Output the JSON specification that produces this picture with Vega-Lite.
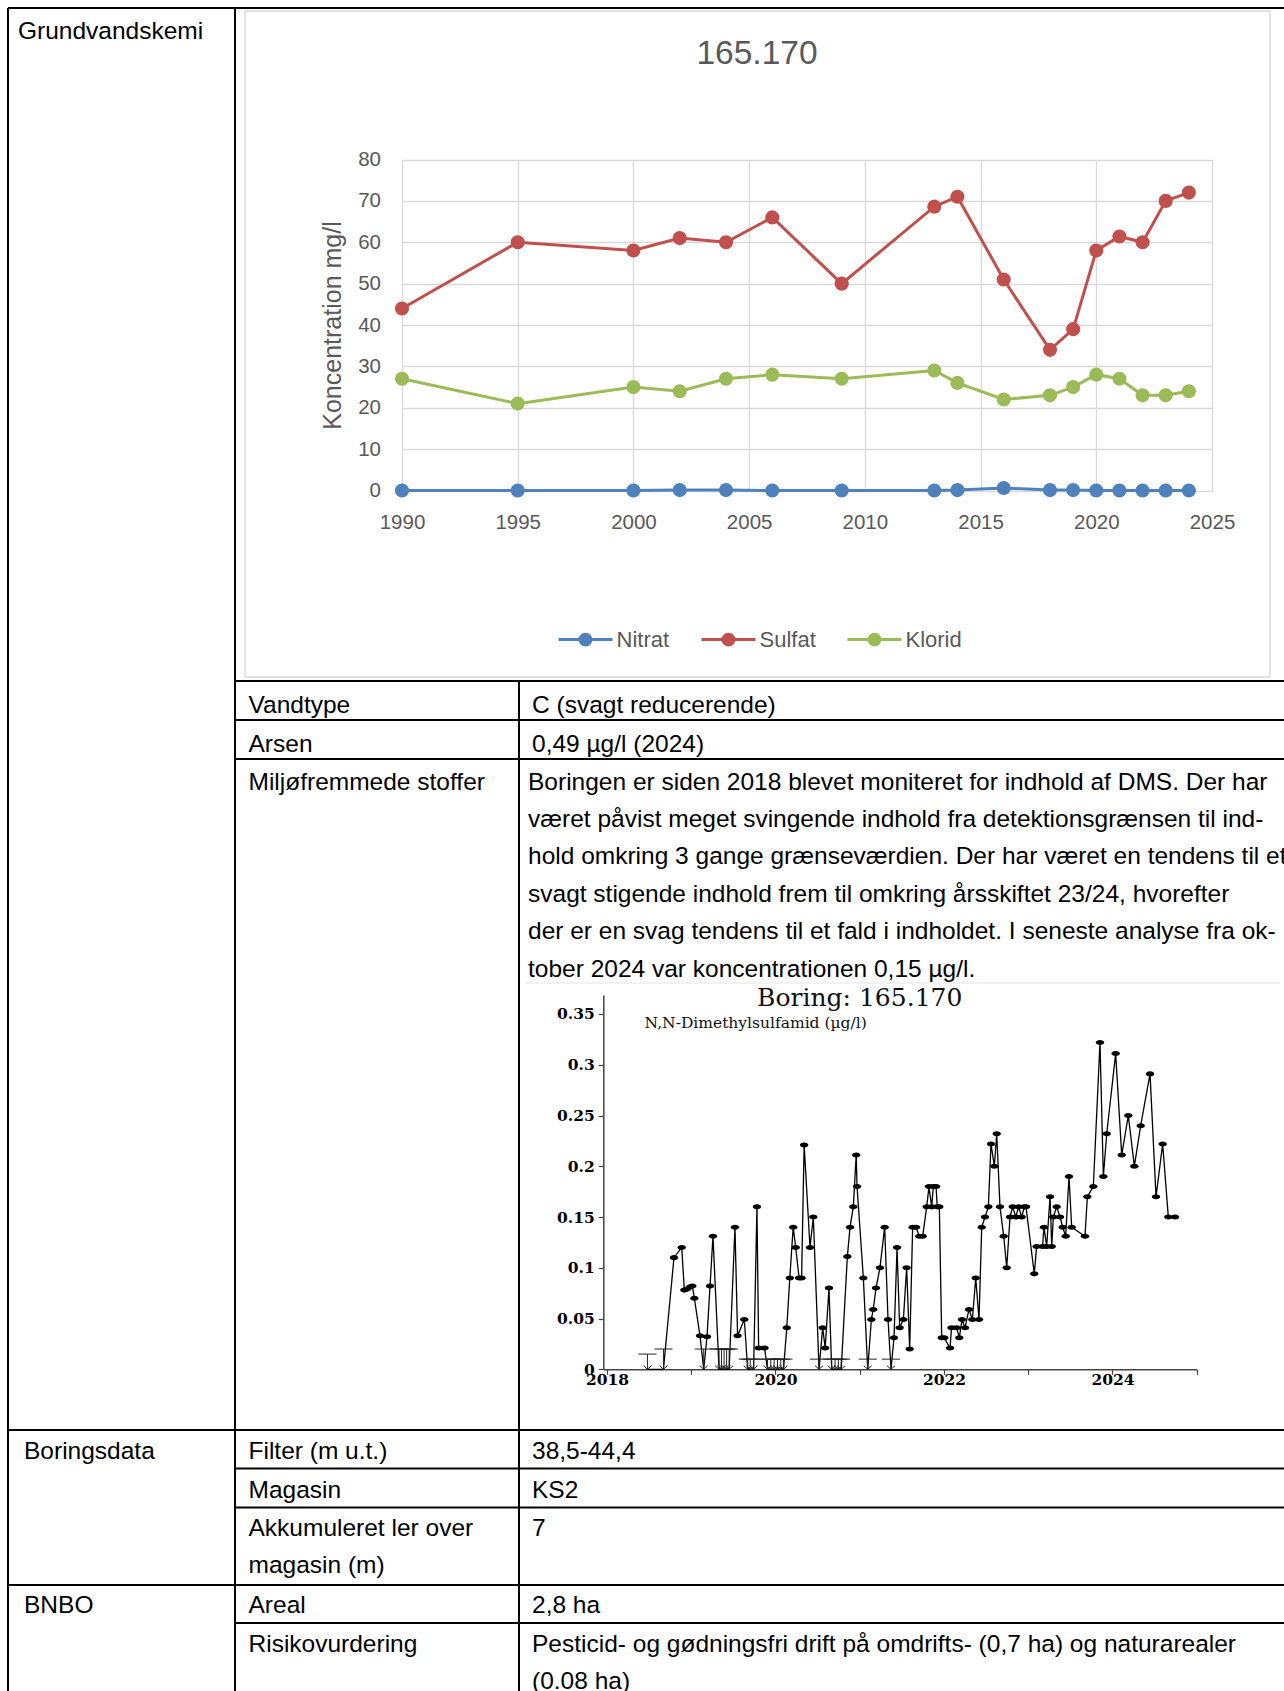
{
  "$schema": "https://vega.github.io/schema/vega-lite/v6.json",
  "width": 1284,
  "height": 1691,
  "autosize": {"type": "none"},
  "padding": 0,
  "background": "white",
  "config": {"view": {"stroke": null}, "font": "Liberation Sans"},
  "title": {"text": "165.170", "font": "Liberation Sans", "fontSize": 33.5, "fontWeight": "normal", "color": "#595959", "anchor": "middle", "frame": "group", "orient": "top", "offset": 0, "baseline": "middle", "dx": 115, "dy": 87.5},
  "resolve": {"scale": {"x": "independent", "y": "independent"}, "axis": {"x": "independent", "y": "independent"}},
  "datasets": {
    "chem": [
      {"year": 1990, "series": "Nitrat", "value": 0}, {"year": 1995, "series": "Nitrat", "value": 0}, {"year": 2000, "series": "Nitrat", "value": 0}, {"year": 2002, "series": "Nitrat", "value": 0.1}, {"year": 2004, "series": "Nitrat", "value": 0.1}, {"year": 2006, "series": "Nitrat", "value": 0}, {"year": 2009, "series": "Nitrat", "value": 0}, {"year": 2013, "series": "Nitrat", "value": 0}, {"year": 2014, "series": "Nitrat", "value": 0.1}, {"year": 2016, "series": "Nitrat", "value": 0.6}, {"year": 2018, "series": "Nitrat", "value": 0.1}, {"year": 2019, "series": "Nitrat", "value": 0.1}, {"year": 2020, "series": "Nitrat", "value": 0}, {"year": 2021, "series": "Nitrat", "value": 0}, {"year": 2022, "series": "Nitrat", "value": 0}, {"year": 2023, "series": "Nitrat", "value": 0}, {"year": 2024, "series": "Nitrat", "value": 0},
      {"year": 1990, "series": "Sulfat", "value": 44}, {"year": 1995, "series": "Sulfat", "value": 60}, {"year": 2000, "series": "Sulfat", "value": 58}, {"year": 2002, "series": "Sulfat", "value": 61}, {"year": 2004, "series": "Sulfat", "value": 60}, {"year": 2006, "series": "Sulfat", "value": 66}, {"year": 2009, "series": "Sulfat", "value": 50}, {"year": 2013, "series": "Sulfat", "value": 68.6}, {"year": 2014, "series": "Sulfat", "value": 71}, {"year": 2016, "series": "Sulfat", "value": 51}, {"year": 2018, "series": "Sulfat", "value": 34}, {"year": 2019, "series": "Sulfat", "value": 39}, {"year": 2020, "series": "Sulfat", "value": 58}, {"year": 2021, "series": "Sulfat", "value": 61.4}, {"year": 2022, "series": "Sulfat", "value": 60}, {"year": 2023, "series": "Sulfat", "value": 70}, {"year": 2024, "series": "Sulfat", "value": 72},
      {"year": 1990, "series": "Klorid", "value": 27}, {"year": 1995, "series": "Klorid", "value": 21}, {"year": 2000, "series": "Klorid", "value": 25}, {"year": 2002, "series": "Klorid", "value": 24}, {"year": 2004, "series": "Klorid", "value": 27}, {"year": 2006, "series": "Klorid", "value": 28}, {"year": 2009, "series": "Klorid", "value": 27}, {"year": 2013, "series": "Klorid", "value": 29}, {"year": 2014, "series": "Klorid", "value": 26}, {"year": 2016, "series": "Klorid", "value": 22}, {"year": 2018, "series": "Klorid", "value": 23}, {"year": 2019, "series": "Klorid", "value": 25}, {"year": 2020, "series": "Klorid", "value": 28}, {"year": 2021, "series": "Klorid", "value": 27}, {"year": 2022, "series": "Klorid", "value": 23}, {"year": 2023, "series": "Klorid", "value": 23}, {"year": 2024, "series": "Klorid", "value": 24}
    ],
    "dms": [
      {"t": 2018.48, "v": 0, "dl": 0.015}, {"t": 2018.67, "v": 0, "dl": 0.02},
      {"t": 2018.795, "v": 0.11}, {"t": 2018.887, "v": 0.12}, {"t": 2018.918, "v": 0.078}, {"t": 2018.95, "v": 0.079}, {"t": 2018.985, "v": 0.081}, {"t": 2019.013, "v": 0.082}, {"t": 2019.037, "v": 0.07}, {"t": 2019.104, "v": 0.033},
      {"t": 2019.148, "v": 0, "dl": 0.02},
      {"t": 2019.187, "v": 0.032}, {"t": 2019.223, "v": 0.082}, {"t": 2019.258, "v": 0.131},
      {"t": 2019.33, "v": 0, "dl": 0.02}, {"t": 2019.36, "v": 0, "dl": 0.02}, {"t": 2019.39, "v": 0, "dl": 0.02}, {"t": 2019.42, "v": 0, "dl": 0.02}, {"t": 2019.45, "v": 0, "dl": 0.02},
      {"t": 2019.519, "v": 0.14}, {"t": 2019.55, "v": 0.033}, {"t": 2019.63, "v": 0.049},
      {"t": 2019.67, "v": 0, "dl": 0.01}, {"t": 2019.7, "v": 0, "dl": 0.01}, {"t": 2019.74, "v": 0, "dl": 0.01},
      {"t": 2019.78, "v": 0.16}, {"t": 2019.8, "v": 0.021}, {"t": 2019.87, "v": 0.021},
      {"t": 2019.905, "v": 0, "dl": 0.01}, {"t": 2019.944, "v": 0, "dl": 0.01}, {"t": 2019.984, "v": 0, "dl": 0.01}, {"t": 2020.024, "v": 0, "dl": 0.01}, {"t": 2020.063, "v": 0, "dl": 0.01}, {"t": 2020.095, "v": 0, "dl": 0.01},
      {"t": 2020.134, "v": 0.041}, {"t": 2020.17, "v": 0.09}, {"t": 2020.21, "v": 0.14}, {"t": 2020.24, "v": 0.12}, {"t": 2020.28, "v": 0.09}, {"t": 2020.31, "v": 0.09}, {"t": 2020.34, "v": 0.221}, {"t": 2020.41, "v": 0.12}, {"t": 2020.449, "v": 0.15},
      {"t": 2020.517, "v": 0, "dl": 0.01},
      {"t": 2020.56, "v": 0.041}, {"t": 2020.59, "v": 0.021}, {"t": 2020.635, "v": 0.08},
      {"t": 2020.667, "v": 0, "dl": 0.01}, {"t": 2020.707, "v": 0, "dl": 0.01}, {"t": 2020.746, "v": 0, "dl": 0.01}, {"t": 2020.78, "v": 0, "dl": 0.01},
      {"t": 2020.853, "v": 0.111}, {"t": 2020.885, "v": 0.14}, {"t": 2020.924, "v": 0.16}, {"t": 2020.958, "v": 0.211}, {"t": 2020.968, "v": 0.18}, {"t": 2021.043, "v": 0.09},
      {"t": 2021.095, "v": 0, "dl": 0.01},
      {"t": 2021.138, "v": 0.049}, {"t": 2021.16, "v": 0.059}, {"t": 2021.193, "v": 0.08}, {"t": 2021.24, "v": 0.1}, {"t": 2021.296, "v": 0.14}, {"t": 2021.336, "v": 0.049},
      {"t": 2021.371, "v": 0, "dl": 0.01},
      {"t": 2021.407, "v": 0.031}, {"t": 2021.443, "v": 0.12}, {"t": 2021.474, "v": 0.041}, {"t": 2021.518, "v": 0.049}, {"t": 2021.557, "v": 0.1}, {"t": 2021.593, "v": 0.02}, {"t": 2021.628, "v": 0.14}, {"t": 2021.668, "v": 0.14}, {"t": 2021.707, "v": 0.131}, {"t": 2021.747, "v": 0.131}, {"t": 2021.795, "v": 0.16}, {"t": 2021.822, "v": 0.18}, {"t": 2021.854, "v": 0.16}, {"t": 2021.874, "v": 0.18}, {"t": 2021.906, "v": 0.18}, {"t": 2021.92, "v": 0.16}, {"t": 2021.945, "v": 0.16}, {"t": 2021.973, "v": 0.031},
      {"t": 2022.004, "v": 0.031}, {"t": 2022.072, "v": 0.021}, {"t": 2022.09, "v": 0.041}, {"t": 2022.151, "v": 0.041}, {"t": 2022.182, "v": 0.031}, {"t": 2022.214, "v": 0.049}, {"t": 2022.25, "v": 0.041}, {"t": 2022.297, "v": 0.059}, {"t": 2022.337, "v": 0.049}, {"t": 2022.377, "v": 0.09}, {"t": 2022.416, "v": 0.049}, {"t": 2022.448, "v": 0.14}, {"t": 2022.487, "v": 0.15}, {"t": 2022.527, "v": 0.16}, {"t": 2022.558, "v": 0.222}, {"t": 2022.598, "v": 0.2}, {"t": 2022.626, "v": 0.232}, {"t": 2022.665, "v": 0.16}, {"t": 2022.709, "v": 0.131}, {"t": 2022.745, "v": 0.1}, {"t": 2022.784, "v": 0.15}, {"t": 2022.816, "v": 0.16}, {"t": 2022.852, "v": 0.15}, {"t": 2022.887, "v": 0.16}, {"t": 2022.923, "v": 0.15}, {"t": 2022.954, "v": 0.16}, {"t": 2022.974, "v": 0.16},
      {"t": 2023.072, "v": 0.094}, {"t": 2023.1, "v": 0.121}, {"t": 2023.17, "v": 0.121}, {"t": 2023.187, "v": 0.14}, {"t": 2023.219, "v": 0.121}, {"t": 2023.259, "v": 0.17}, {"t": 2023.279, "v": 0.121}, {"t": 2023.298, "v": 0.15}, {"t": 2023.338, "v": 0.16}, {"t": 2023.378, "v": 0.15}, {"t": 2023.409, "v": 0.14}, {"t": 2023.445, "v": 0.131}, {"t": 2023.484, "v": 0.19}, {"t": 2023.516, "v": 0.14}, {"t": 2023.674, "v": 0.131}, {"t": 2023.702, "v": 0.17}, {"t": 2023.773, "v": 0.18}, {"t": 2023.852, "v": 0.322}, {"t": 2023.892, "v": 0.19}, {"t": 2023.932, "v": 0.232},
      {"t": 2024.038, "v": 0.311}, {"t": 2024.11, "v": 0.211}, {"t": 2024.188, "v": 0.25}, {"t": 2024.26, "v": 0.2}, {"t": 2024.335, "v": 0.24}, {"t": 2024.446, "v": 0.291}, {"t": 2024.517, "v": 0.17}, {"t": 2024.596, "v": 0.222}, {"t": 2024.663, "v": 0.15}, {"t": 2024.743, "v": 0.15}
    ]
  },
  "layer": [
    {
      "data": {"values": [{"c1": 2, "c2": 4, "r1": 0, "r2": 1}]},
      "mark": {"type": "rect", "fill": "transparent", "stroke": "#D9D9D9", "strokeWidth": 1.3, "xOffset": 10, "x2Offset": -14, "yOffset": 3, "y2Offset": -4},
      "encoding": {
        "x": {"field": "c1", "type": "quantitative", "scale": {"domain": [1, 2, 3, 4], "range": [8, 235, 519, 1284], "nice": false, "zero": false}, "axis": null},
        "x2": {"field": "c2"},
        "y": {"field": "r1", "type": "quantitative", "scale": {"domain": [0, 1, 2, 3, 4, 5, 6, 7, 8, 9], "range": [8, 681, 720, 759, 1430, 1468.5, 1507.5, 1585, 1623, 1720], "nice": false, "zero": false}, "axis": null},
        "y2": {"field": "r2"}
      }
    },
    {
      "data": {"values": [{"r": 3, "c1": 3, "c2": 4}]},
      "mark": {"type": "rule", "color": "#E4E4E4", "strokeWidth": 1, "yOffset": 224, "xOffset": 6, "x2Offset": -4},
      "encoding": {
        "x": {"field": "c1", "type": "quantitative", "scale": {"domain": [1, 2, 3, 4], "range": [8, 235, 519, 1284], "nice": false, "zero": false}, "axis": null},
        "x2": {"field": "c2"},
        "y": {"field": "r", "type": "quantitative", "scale": {"domain": [0, 1, 2, 3, 4, 5, 6, 7, 8, 9], "range": [8, 681, 720, 759, 1430, 1468.5, 1507.5, 1585, 1623, 1720], "nice": false, "zero": false}, "axis": null}
      }
    },
    {
      "data": {"values": [{"r": 0, "c1": 1, "c2": 4}, {"r": 1, "c1": 2, "c2": 4}, {"r": 2, "c1": 2, "c2": 4}, {"r": 3, "c1": 2, "c2": 4}, {"r": 4, "c1": 1, "c2": 4}, {"r": 5, "c1": 2, "c2": 4}, {"r": 6, "c1": 2, "c2": 4}, {"r": 7, "c1": 1, "c2": 4}, {"r": 8, "c1": 2, "c2": 4}]},
      "mark": {"type": "rule", "color": "black", "strokeWidth": 2},
      "encoding": {
        "x": {"field": "c1", "type": "quantitative", "scale": {"domain": [1, 2, 3, 4], "range": [8, 235, 519, 1284], "nice": false, "zero": false}, "axis": null},
        "x2": {"field": "c2"},
        "y": {"field": "r", "type": "quantitative", "scale": {"domain": [0, 1, 2, 3, 4, 5, 6, 7, 8, 9], "range": [8, 681, 720, 759, 1430, 1468.5, 1507.5, 1585, 1623, 1720], "nice": false, "zero": false}, "axis": null}
      }
    },
    {
      "data": {"values": [{"c": 1, "r1": 0, "r2": 9}, {"c": 2, "r1": 0, "r2": 9}, {"c": 3, "r1": 1, "r2": 9}]},
      "mark": {"type": "rule", "color": "black", "strokeWidth": 2},
      "encoding": {
        "x": {"field": "c", "type": "quantitative", "scale": {"domain": [1, 2, 3, 4], "range": [8, 235, 519, 1284], "nice": false, "zero": false}, "axis": null},
        "y": {"field": "r1", "type": "quantitative", "scale": {"domain": [0, 1, 2, 3, 4, 5, 6, 7, 8, 9], "range": [8, 681, 720, 759, 1430, 1468.5, 1507.5, 1585, 1623, 1720], "nice": false, "zero": false}, "axis": null},
        "y2": {"field": "r2"}
      }
    },
    {
      "data": {"name": "chem"},
      "mark": {"type": "line", "strokeWidth": 3, "point": {"filled": true, "size": 200, "opacity": 1}},
      "encoding": {
        "x": {"field": "year", "type": "quantitative", "scale": {"domain": [1990, 2025], "range": [402, 1212], "nice": false, "zero": false},
          "axis": {"orient": "top", "offset": -490.5, "values": [1990, 1995, 2000, 2005, 2010, 2015, 2020, 2025], "format": "d", "grid": true, "gridColor": "#D9D9D9", "gridWidth": 1.3, "domain": false, "ticks": false, "tickSize": 0, "labelPadding": -22, "labelBaseline": "top", "labelFlush": false, "labelOverlap": false, "labelFont": "Liberation Sans", "labelFontSize": 20.5, "labelColor": "#595959", "title": null}},
        "y": {"field": "value", "type": "quantitative", "scale": {"domain": [0, 80], "range": [490.5, 159.5], "nice": false, "zero": false},
          "axis": {"orient": "left", "offset": -402, "values": [0, 10, 20, 30, 40, 50, 60, 70, 80], "grid": true, "gridColor": "#D9D9D9", "gridWidth": 1.3, "domain": false, "ticks": false, "tickSize": 0, "labelPadding": 21.5, "labelFlush": false, "labelOverlap": false, "labelFont": "Liberation Sans", "labelFontSize": 20.5, "labelColor": "#595959", "title": "Koncentration mg/l", "titleFont": "Liberation Sans", "titleFontSize": 25, "titleFontWeight": "normal", "titleColor": "#595959", "titlePadding": 12}},
        "color": {"field": "series", "type": "nominal", "scale": {"domain": ["Nitrat", "Sulfat", "Klorid"], "range": ["#4F81BD", "#C0504D", "#9BBB59"]},
          "legend": {"orient": "none", "legendX": 557, "legendY": 611, "direction": "horizontal", "title": null, "symbolType": "M-1,0H1M-0.2,0A0.2,0.2 0 1,1 0.2,0A0.2,0.2 0 1,1 -0.2,0M-0.14,0A0.14,0.14 0 1,1 0.14,0A0.14,0.14 0 1,1 -0.14,0M-0.08,0A0.08,0.08 0 1,1 0.08,0A0.08,0.08 0 1,1 -0.08,0M-0.03,0A0.03,0.03 0 1,1 0.03,0A0.03,0.03 0 1,1 -0.03,0", "symbolSize": 2916, "symbolStrokeWidth": 3, "symbolOpacity": 1, "labelFont": "Liberation Sans", "labelFontSize": 22, "labelColor": "#595959", "labelOffset": 2.5, "columnPadding": 25}}
      }
    },
    {
      "data": {"name": "dms"},
      "mark": {"type": "line", "color": "black", "strokeWidth": 1.3},
      "encoding": {
        "x": {"field": "t", "type": "quantitative", "scale": {"domain": [2017.956, 2025], "range": [603.3, 1196.7], "nice": false, "zero": false},
          "axis": {"orient": "bottom", "offset": -321.7, "values": [2018, 2019, 2020, 2021, 2022, 2023, 2024, 2025], "labelExpr": "datum.value % 2 === 0 ? format(datum.value, 'd') : ''", "grid": false, "domain": true, "domainColor": "#444", "domainWidth": 1.5, "ticks": true, "tickColor": "#444", "tickSize": 5, "tickWidth": 1.2, "labelPadding": -2, "labelBaseline": "top", "labelFlush": false, "labelOverlap": false, "labelFont": "DejaVu Serif", "labelFontWeight": "bold", "labelFontSize": 15.5, "labelColor": "black", "title": null}},
        "y": {"field": "v", "type": "quantitative", "scale": {"domain": [0, 0.3687], "range": [1369.3, 995], "nice": false, "zero": false},
          "axis": {"orient": "left", "offset": -603.3, "values": [0, 0.05, 0.1, 0.15, 0.2, 0.25, 0.3, 0.35], "labelExpr": "format(datum.value, '~g')", "grid": false, "domain": true, "domainColor": "#444", "domainWidth": 1.5, "ticks": true, "tickColor": "#444", "tickSize": 5, "tickWidth": 1.2, "labelPadding": 4, "labelFlush": false, "labelOverlap": false, "labelFont": "DejaVu Serif", "labelFontWeight": "bold", "labelFontSize": 15.5, "labelColor": "black", "title": null}}
      }
    },
    {
      "data": {"name": "dms"},
      "transform": [{"filter": "!isValid(datum.dl)"}],
      "mark": {"type": "point", "filled": true, "shape": "M-1,0A1,0.6 0 1,0 1,0A1,0.6 0 1,0 -1,0Z", "size": 70, "color": "black", "opacity": 1},
      "encoding": {
        "x": {"field": "t", "type": "quantitative", "scale": {"domain": [2017.956, 2025], "range": [603.3, 1196.7], "nice": false, "zero": false}, "axis": null},
        "y": {"field": "v", "type": "quantitative", "scale": {"domain": [0, 0.3687], "range": [1369.3, 995], "nice": false, "zero": false}, "axis": null}
      }
    },
    {
      "data": {"name": "dms"},
      "transform": [{"filter": "isValid(datum.dl)"}],
      "mark": {"type": "rule", "color": "#222", "strokeWidth": 1},
      "encoding": {
        "x": {"field": "t", "type": "quantitative", "scale": {"domain": [2017.956, 2025], "range": [603.3, 1196.7], "nice": false, "zero": false}, "axis": null},
        "y": {"field": "v", "type": "quantitative", "scale": {"domain": [0, 0.3687], "range": [1369.3, 995], "nice": false, "zero": false}, "axis": null},
        "y2": {"field": "dl"}
      }
    },
    {
      "data": {"name": "dms"},
      "transform": [{"filter": "isValid(datum.dl)"}],
      "mark": {"type": "tick", "orient": "horizontal", "size": 18, "thickness": 1, "color": "#222", "opacity": 1},
      "encoding": {
        "x": {"field": "t", "type": "quantitative", "scale": {"domain": [2017.956, 2025], "range": [603.3, 1196.7], "nice": false, "zero": false}, "axis": null},
        "y": {"field": "dl", "type": "quantitative", "scale": {"domain": [0, 0.3687], "range": [1369.3, 995], "nice": false, "zero": false}, "axis": null}
      }
    },
    {
      "data": {"name": "dms"},
      "transform": [{"filter": "isValid(datum.dl)"}],
      "mark": {"type": "point", "filled": false, "shape": "M-1,-0.9L0,0L1,-0.9", "size": 64, "color": "#222", "strokeWidth": 1, "opacity": 1},
      "encoding": {
        "x": {"field": "t", "type": "quantitative", "scale": {"domain": [2017.956, 2025], "range": [603.3, 1196.7], "nice": false, "zero": false}, "axis": null},
        "y": {"field": "v", "type": "quantitative", "scale": {"domain": [0, 0.3687], "range": [1369.3, 995], "nice": false, "zero": false}, "axis": null}
      }
    },
    {
      "data": {"values": [{"label": "Boring: 165.170"}]},
      "mark": {"type": "text", "font": "DejaVu Serif", "fontSize": 25, "align": "center", "baseline": "alphabetic", "color": "#111"},
      "encoding": {
        "x": {"datum": 2021.0, "type": "quantitative", "scale": {"domain": [2017.956, 2025], "range": [603.3, 1196.7], "nice": false, "zero": false}, "axis": null},
        "y": {"datum": 0.3582, "type": "quantitative", "scale": {"domain": [0, 0.3687], "range": [1369.3, 995], "nice": false, "zero": false}, "axis": null},
        "text": {"field": "label", "type": "nominal"}
      }
    },
    {
      "data": {"values": [{"label": "N,N-Dimethylsulfamid (µg/l)"}]},
      "mark": {"type": "text", "font": "DejaVu Serif", "fontSize": 15.5, "align": "left", "baseline": "alphabetic", "color": "#111"},
      "encoding": {
        "x": {"datum": 2018.446, "type": "quantitative", "scale": {"domain": [2017.956, 2025], "range": [603.3, 1196.7], "nice": false, "zero": false}, "axis": null},
        "y": {"datum": 0.3365, "type": "quantitative", "scale": {"domain": [0, 0.3687], "range": [1369.3, 995], "nice": false, "zero": false}, "axis": null},
        "text": {"field": "label", "type": "nominal"}
      }
    },
    {
      "data": {"values": [{"r": 0, "c": 1, "text": "Grundvandskemi"}]},
      "mark": {"type": "text", "align": "left", "baseline": "alphabetic", "dx": 10, "font": "Liberation Sans", "fontSize": 24.5, "color": "black", "lineBreak": "\n", "lineHeight": 37.4},
      "encoding": {
        "x": {"field": "c", "type": "quantitative", "scale": {"domain": [1, 2, 3, 4], "range": [8, 235, 519, 1284], "nice": false, "zero": false}, "axis": null},
        "y": {"field": "r", "type": "quantitative", "scale": {"domain": [0, 1, 2, 3, 4, 5, 6, 7, 8], "range": [38.8, 712.5, 752.3, 789.6, 1458.5, 1497.8, 1536.1, 1612.8, 1651.6], "nice": false, "zero": false}, "axis": null},
        "text": {"field": "text", "type": "nominal"}
      }
    },
    {
      "data": {"values": [{"r": 4, "c": 1, "text": "Boringsdata"}, {"r": 7, "c": 1, "text": "BNBO"}]},
      "mark": {"type": "text", "align": "left", "baseline": "alphabetic", "dx": 16, "font": "Liberation Sans", "fontSize": 24.5, "color": "black", "lineBreak": "\n", "lineHeight": 37.4},
      "encoding": {
        "x": {"field": "c", "type": "quantitative", "scale": {"domain": [1, 2, 3, 4], "range": [8, 235, 519, 1284], "nice": false, "zero": false}, "axis": null},
        "y": {"field": "r", "type": "quantitative", "scale": {"domain": [0, 1, 2, 3, 4, 5, 6, 7, 8], "range": [38.8, 712.5, 752.3, 789.6, 1458.5, 1497.8, 1536.1, 1612.8, 1651.6], "nice": false, "zero": false}, "axis": null},
        "text": {"field": "text", "type": "nominal"}
      }
    },
    {
      "data": {"values": [
        {"r": 1, "c": 2, "text": "Vandtype"},
        {"r": 2, "c": 2, "text": "Arsen"},
        {"r": 3, "c": 2, "text": "Miljøfremmede stoffer"},
        {"r": 4, "c": 2, "text": "Filter (m u.t.)"},
        {"r": 5, "c": 2, "text": "Magasin"},
        {"r": 6, "c": 2, "text": "Akkumuleret ler over\nmagasin (m)"},
        {"r": 7, "c": 2, "text": "Areal"},
        {"r": 8, "c": 2, "text": "Risikovurdering"}
      ]},
      "mark": {"type": "text", "align": "left", "baseline": "alphabetic", "dx": 13.5, "font": "Liberation Sans", "fontSize": 24.5, "color": "black", "lineBreak": "\n", "lineHeight": 37.4},
      "encoding": {
        "x": {"field": "c", "type": "quantitative", "scale": {"domain": [1, 2, 3, 4], "range": [8, 235, 519, 1284], "nice": false, "zero": false}, "axis": null},
        "y": {"field": "r", "type": "quantitative", "scale": {"domain": [0, 1, 2, 3, 4, 5, 6, 7, 8], "range": [38.8, 712.5, 752.3, 789.6, 1458.5, 1497.8, 1536.1, 1612.8, 1651.6], "nice": false, "zero": false}, "axis": null},
        "text": {"field": "text", "type": "nominal"}
      }
    },
    {
      "data": {"values": [
        {"r": 1, "c": 3, "text": "C (svagt reducerende)"},
        {"r": 2, "c": 3, "text": "0,49 µg/l (2024)"},
        {"r": 4, "c": 3, "text": "38,5-44,4"},
        {"r": 5, "c": 3, "text": "KS2"},
        {"r": 6, "c": 3, "text": "7"},
        {"r": 7, "c": 3, "text": "2,8 ha"},
        {"r": 8, "c": 3, "text": "Pesticid- og gødningsfri drift på omdrifts- (0,7 ha) og naturarealer\n(0.08 ha)"}
      ]},
      "mark": {"type": "text", "align": "left", "baseline": "alphabetic", "dx": 13, "font": "Liberation Sans", "fontSize": 24.5, "color": "black", "lineBreak": "\n", "lineHeight": 37.4},
      "encoding": {
        "x": {"field": "c", "type": "quantitative", "scale": {"domain": [1, 2, 3, 4], "range": [8, 235, 519, 1284], "nice": false, "zero": false}, "axis": null},
        "y": {"field": "r", "type": "quantitative", "scale": {"domain": [0, 1, 2, 3, 4, 5, 6, 7, 8], "range": [38.8, 712.5, 752.3, 789.6, 1458.5, 1497.8, 1536.1, 1612.8, 1651.6], "nice": false, "zero": false}, "axis": null},
        "text": {"field": "text", "type": "nominal"}
      }
    },
    {
      "data": {"values": [
        {"r": 3, "c": 3, "text": "Boringen er siden 2018 blevet moniteret for indhold af DMS. Der har\nværet påvist meget svingende indhold fra detektionsgrænsen til ind-\nhold omkring 3 gange grænseværdien. Der har været en tendens til et\nsvagt stigende indhold frem til omkring årsskiftet 23/24, hvorefter\nder er en svag tendens til et fald i indholdet. I seneste analyse fra ok-\ntober 2024 var koncentrationen 0,15 µg/l."}
      ]},
      "mark": {"type": "text", "align": "left", "baseline": "alphabetic", "dx": 9, "font": "Liberation Sans", "fontSize": 24.5, "color": "black", "lineBreak": "\n", "lineHeight": 37.4},
      "encoding": {
        "x": {"field": "c", "type": "quantitative", "scale": {"domain": [1, 2, 3, 4], "range": [8, 235, 519, 1284], "nice": false, "zero": false}, "axis": null},
        "y": {"field": "r", "type": "quantitative", "scale": {"domain": [0, 1, 2, 3, 4, 5, 6, 7, 8], "range": [38.8, 712.5, 752.3, 789.6, 1458.5, 1497.8, 1536.1, 1612.8, 1651.6], "nice": false, "zero": false}, "axis": null},
        "text": {"field": "text", "type": "nominal"}
      }
    }
  ]
}
